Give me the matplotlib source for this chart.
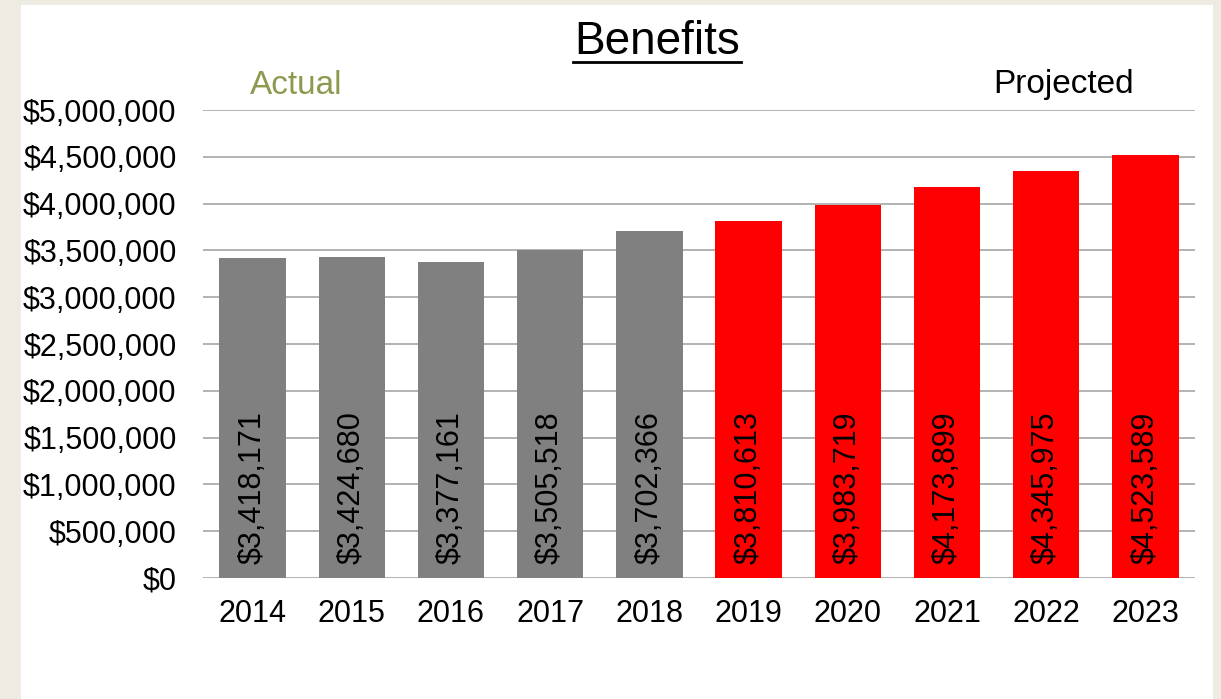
import matplotlib
matplotlib.use('Agg')
import matplotlib.pyplot as plt
from matplotlib.patches import Rectangle
from matplotlib.ticker import FuncFormatter

years = ['2014', '2015', '2016', '2017', '2018', '2019', '2020', '2021', '2022', '2023']
benefits = [3418171, 3424680, 3377161, 3505518, 3702366, 3810613, 3983719, 4173899, 4345975, 4523589]
n_actual = 5
yticks = [0, 500000, 1000000, 1500000, 2000000, 2500000, 3000000, 3500000, 4000000, 4500000, 5000000]

plt.rcParams['font.family'] = ['Liberation Sans', 'DejaVu Sans']

W, H = 1221, 699
fig = plt.figure(figsize=(W / 100, H / 100), dpi=100)
fig.patch.set_facecolor('#EEEBE3')
# white slide panel
fig.patches.append(Rectangle((21 / W, 0), (1213 - 21) / W, (H - 5) / H, transform=fig.transFigure,
                             facecolor='white', edgecolor='none', zorder=-1))

ax = fig.add_axes([203 / W, (H - 578) / H, (1195 - 203) / W, (578 - 110) / H])
ax.set_zorder(2)
ax.set_facecolor('none')
colors = ['#808080'] * n_actual + ['#FF0000'] * (len(years) - n_actual)
x = list(range(len(years)))
bars = ax.bar(x, benefits, width=0.67, color=colors, zorder=2)
for xi, v in zip(x, benefits):
    ax.annotate(f'${v:,}', (xi, 0), xytext=(0, 10), textcoords='offset points',
                rotation=90, ha='center', va='bottom', fontsize=22, color='black', zorder=3)

ax.set_xlim(-0.5, len(years) - 0.5)
ax.set_ylim(0, 5000000)
ax.set_yticks(yticks)
ax.yaxis.set_major_formatter(FuncFormatter(lambda v, p: f'${int(v):,}'))
ax.set_xticks(x)
ax.set_xticklabels(years)
ax.grid(axis='y', color='#A6A6A6', linewidth=1.2, zorder=1)
ax.set_axisbelow(True)
for s in ax.spines.values():
    s.set_visible(False)
ax.tick_params(axis='both', length=0, labelsize=22)
ax.tick_params(axis='y', pad=19)
ax.tick_params(axis='x', pad=15)

fig.text(657 / W, 1 - 42 / H, 'Benefits', ha='center', va='center', fontsize=33)
# underline under the title
fig.add_artist(plt.Line2D([573 / W, 741 / W], [1 - 62 / H, 1 - 62 / H], color='black', linewidth=2))
fig.text(296 / W, 1 - 85 / H, 'Actual', ha='center', va='center', fontsize=24, color='#8C9A50')
fig.text(1064 / W, 1 - 85 / H, 'Projected', ha='center', va='center', fontsize=24, color='black')

fig.savefig('out.png', dpi=100, facecolor=fig.get_facecolor())
